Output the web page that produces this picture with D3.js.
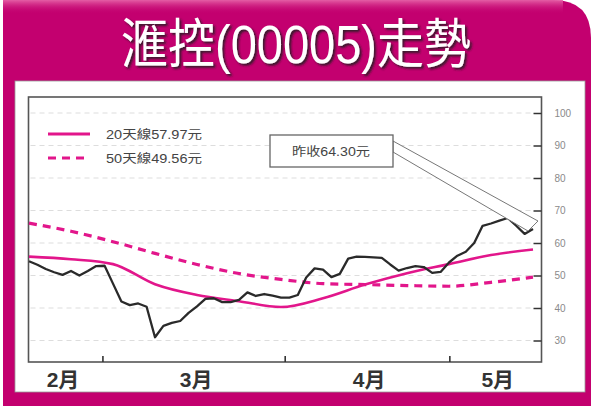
<html>
<head>
<meta charset="utf-8">
<script src="https://cdn.jsdelivr.net/npm/d3@7"></script>
<style>
body { margin: 0; background: #fff; }
svg { display: block; font-family: "Liberation Sans", "Noto Sans CJK TC", sans-serif; }
.grid line { stroke: #d4d4d4; stroke-width: 0.8; stroke-dasharray: 5,4; }
.yaxis line { stroke: #333; stroke-width: 1.5; }
.yaxis text { fill: #8a8a8a; font-size: 10px; }
</style>
</head>
<body>
<svg id="chart" width="591" height="412"></svg>
<script>

var title = "滙控(00005)走勢";

// daily close, mid Feb -> mid May
var price = [54.4, 53.3, 52.0, 51.0, 50.2, 51.4, 50.0, 51.4, 52.9, 53.0,
  47.5, 42.0, 40.9, 41.4, 40.4, 31.0, 34.5, 35.4, 36.0, 38.5,
  40.5, 42.8, 43.0, 41.8, 41.8, 42.5, 44.8, 43.7, 44.3, 43.8,
  43.2, 43.2, 44.0, 49.4, 52.2, 51.8, 49.5, 50.5, 55.2, 55.8,
  55.7, 55.6, 55.4, 53.4, 51.5, 52.3, 52.9, 52.6, 50.8, 51.1,
  54.0, 56.1, 57.3, 60.0, 65.3, 66.0, 66.9, 67.7, 65.3, 62.8, 64.3];

// moving averages read every 5 days
var maIdx = [0, 5, 10, 15, 20, 25, 30, 35, 40, 45, 50, 55, 60];
var ma20 = [55.8, 55.0, 53.5, 47.3, 44.0, 42.1, 40.3, 43.0, 47.2, 50.7, 53.5, 56.3, 58.0];
var ma50 = [66.1, 63.6, 60.4, 56.8, 53.4, 50.6, 48.8, 47.5, 47.2, 46.9, 46.7, 47.9, 49.5];

var yTicks = [30, 40, 50, 60, 70, 80, 90, 100];
var monthNames = ["2月", "3月", "4月", "5月"];
var monthLabelAt = [4.05, 19.9, 40.5, 55.8];
var monthTickAt = [8.8, 30.5, 50.1];
var legendNames = ["20天線57.97元", "50天線49.56元"];
var lastNote = "昨收64.30元";

var svg = d3.select("#chart");
var magenta = "#c3006f", maColor = "#e2168b";

var plotL = 28.5, plotR = 541.5, plotT = 97, plotB = 362;

var x = d3.scaleLinear().domain([0, price.length - 1]).range([29, 533]);
var y = d3.scaleLinear().domain([30, 100]).range([340.5, 113]);

// background frame
var defs = svg.append("defs");
var grad = defs.append("linearGradient").attr("id", "topglow")
  .attr("x1", 0).attr("y1", 0).attr("x2", 0).attr("y2", 1);
grad.append("stop").attr("offset", "0").attr("stop-color", "#e868ab").attr("stop-opacity", 0.9);
grad.append("stop").attr("offset", "1").attr("stop-color", magenta).attr("stop-opacity", 0);

var shadow = defs.append("filter").attr("id", "tshadow")
  .attr("x", "-5%").attr("y", "-20%").attr("width", "110%").attr("height", "140%");
shadow.append("feDropShadow").attr("dx", 2).attr("dy", 2).attr("stdDeviation", 0.8)
  .attr("flood-color", "#222").attr("flood-opacity", 0.85);

var r = 38;
var bgPath = "M3,0 H" + (591 - r) + " Q591,0 591," + r + " V406 H3 Z";
svg.append("path").attr("d", bgPath).attr("fill", magenta);
svg.append("rect").attr("x", 3).attr("y", 0).attr("width", 560).attr("height", 14)
  .attr("fill", "url(#topglow)");

svg.append("rect")
  .attr("x", 15).attr("y", 81).attr("width", 570).attr("height", 311)
  .attr("fill", "#fff").attr("stroke", "#9a9a9a").attr("stroke-width", 0.8);

// title
svg.append("text").attr("x", 296).attr("y", 63)
  .attr("text-anchor", "middle").attr("font-size", 53)
  .attr("textLength", 350).attr("lengthAdjust", "spacingAndGlyphs")
  .attr("fill", "#fff").attr("filter", "url(#tshadow)")
  .text(title);

// grid
svg.append("g").attr("class", "grid")
  .selectAll("line").data(yTicks).enter().append("line")
  .attr("x1", plotL + 2).attr("x2", plotR - 9)
  .attr("y1", function(d) { return y(d); })
  .attr("y2", function(d) { return y(d); });

// plot frame
svg.append("rect")
  .attr("x", plotL).attr("y", plotT).attr("width", plotR - plotL).attr("height", plotB - plotT)
  .attr("fill", "none").attr("stroke", "#555").attr("stroke-width", 1.6);

// right axis
var yAxis = d3.axisRight(y).tickValues(yTicks).tickSize(-8).tickPadding(13);
svg.append("g").attr("class", "yaxis")
  .attr("transform", "translate(" + plotR + ",0)")
  .call(yAxis)
  .call(function(g) { g.select(".domain").remove(); })
  .selectAll("text").attr("font-family", "Liberation Sans, sans-serif");

// month ticks
svg.append("g").selectAll("line").data(monthTickAt).enter().append("line")
  .attr("x1", function(d) { return x(d); }).attr("x2", function(d) { return x(d); })
  .attr("y1", plotB).attr("y2", plotB - 6)
  .attr("stroke", "#333").attr("stroke-width", 1.6);

svg.append("g").selectAll("text").data(monthNames).enter().append("text")
  .attr("x", function(d, i) { return x(monthLabelAt[i]); })
  .attr("y", 387)
  .attr("text-anchor", "middle")
  .attr("font-size", 21).attr("font-weight", "bold").attr("fill", "#333")
  .text(function(d) { return d; });

// lines
var maLine = d3.line()
  .x(function(d, i) { return x(maIdx[i]); })
  .y(function(d) { return y(d); })
  .curve(d3.curveMonotoneX);

svg.append("path").datum(ma50)
  .attr("d", maLine).attr("fill", "none")
  .attr("stroke", maColor).attr("stroke-width", 3.2).attr("stroke-dasharray", "8,6");

svg.append("path").datum(ma20)
  .attr("d", maLine).attr("fill", "none")
  .attr("stroke", maColor).attr("stroke-width", 2.6);

var priceLine = d3.line()
  .x(function(d, i) { return x(i); })
  .y(function(d) { return y(d); });

svg.append("path").datum(price)
  .attr("d", priceLine).attr("fill", "none")
  .attr("stroke", "#2a2a2a").attr("stroke-width", 2.3).attr("stroke-linejoin", "round");

// legend
var legend = svg.append("g");
legendNames.forEach(function(name, i) {
  var ly = 134 + i * 24;
  legend.append("line")
    .attr("x1", 48).attr("x2", 90).attr("y1", ly).attr("y2", ly)
    .attr("stroke", maColor).attr("stroke-width", i ? 3.2 : 2.8)
    .attr("stroke-dasharray", i ? "8,6" : null);
  legend.append("text")
    .attr("x", 106).attr("y", ly + 4.5)
    .attr("font-size", 12).attr("fill", "#444")
    .attr("textLength", 96).attr("lengthAdjust", "spacingAndGlyphs")
    .text(name);
});

// callout for last close
var lx = x(price.length - 1), lyv = y(price[price.length - 1]);
var pts = [[393, 141], [lx + 5, lyv - 8], [lx - 5, lyv + 2], [393, 152]];
svg.append("polygon")
  .attr("points", pts.map(function(p) { return p.join(","); }).join(" "))
  .attr("fill", "#fff").attr("stroke", "#777").attr("stroke-width", 1);

svg.append("rect")
  .attr("x", 270).attr("y", 135).attr("width", 123).attr("height", 32)
  .attr("fill", "#fff").attr("stroke", "#666").attr("stroke-width", 1.3);
svg.append("text")
  .attr("x", 331).attr("y", 156).attr("text-anchor", "middle")
  .attr("font-size", 12).attr("fill", "#444")
  .attr("textLength", 78).attr("lengthAdjust", "spacingAndGlyphs")
  .text(lastNote);

</script>
</body>
</html>
